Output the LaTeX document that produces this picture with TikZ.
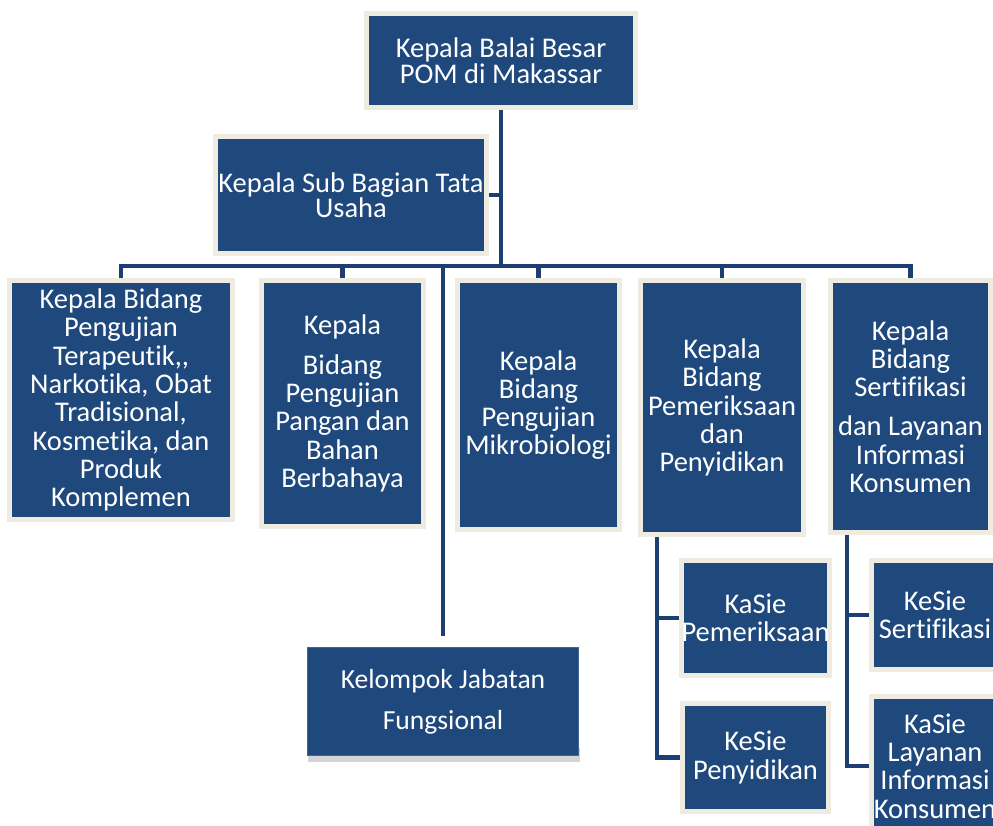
\documentclass[tikz,border=0pt]{standalone}
\usepackage{fontspec}
\setmainfont{Carlito}[Ligatures={NoCommon}]
\usepackage{xcolor}
\definecolor{biru}{RGB}{31,73,125}
\definecolor{krem}{RGB}{238,236,225}
\definecolor{garisbiru}{RGB}{28,62,112}
\definecolor{bayang}{RGB}{212,212,212}

\begin{document}
\begin{tikzpicture}[x=1pt,y=-1pt,
  kotak/.style={rectangle,fill=biru,draw=krem,line width=5pt,text=white,align=center,inner sep=0pt,
    font=\fontsize{28.5}{28.3}\selectfont},
  garis/.style={draw=garisbiru,line width=4.5pt}]
\useasboundingbox (0,0) rectangle (993,825);
%\fill[white] (0,0) rectangle (993,825);

% pimpinan dan tata usaha
\node[kotak,minimum width=269pt,minimum height=94pt,font=\fontsize{28.5}{26}\selectfont] (kepalabalai) at (501,60.5) {Kepala Balai Besar\\POM di Makassar};
\node[kotak,minimum width=271pt,minimum height=117pt,font=\fontsize{28.5}{25.5}\selectfont] (kasubbag) at (351,195) {Kepala Sub Bagian Tata\\Usaha};

% bidang
\node[kotak,minimum width=223pt,minimum height=239pt] (bidTPN) at (121,400) {Kepala Bidang\\Pengujian\\Terapeutik,{},\\Narkotika, Obat\\Tradisional,\\Kosmetika, dan\\Produk\\Komplemen};
\node[kotak,minimum width=162pt,minimum height=246pt] (bidPangan) at (342.5,403.5) {Kepala\\[11pt]Bidang\\Pengujian\\Pangan dan\\Bahan\\Berbahaya};
\node[kotak,minimum width=162pt,minimum height=249pt] (bidMikro) at (538.5,405) {Kepala\\Bidang\\Pengujian\\Mikrobiologi};
\node[kotak,minimum width=163pt,minimum height=254pt] (bidPemeriksaan) at (722,407.5) {Kepala\\Bidang\\Pemeriksaan\\dan\\Penyidikan};
\node[kotak,minimum width=160pt,minimum height=252pt] (bidSertifikasi) at (910.5,406.5) {Kepala\\Bidang\\Sertifikasi\\[11pt]dan Layanan\\Informasi\\Konsumen};

% seksi
\node[kotak,minimum width=146pt,minimum height=115pt] (kasiPemeriksaan) at (755.5,618) {KaSie\\Pemeriksaan};
\node[kotak,minimum width=146pt,minimum height=108pt] (kasiPenyidikan) at (755.5,757.5) {KeSie\\Penyidikan};
\node[kotak,minimum width=127pt,minimum height=109pt] (kasiSertifikasi) at (935,615) {KeSie\\Sertifikasi};
\node[kotak,minimum width=127pt,minimum height=139pt] (kasiLayanan) at (935,766) {KaSie\\Layanan\\Informasi\\Konsumen};

% kelompok jabatan fungsional
\fill[bayang] (308,748) rectangle (580,762);
\node[rectangle,fill=biru,draw=biru!85!white,line width=1pt,text=white,align=center,inner sep=0pt,
  minimum width=271pt,minimum height=108pt,font=\fontsize{27.6}{41}\selectfont] (kjf) at (443,701.5) {Kelompok Jabatan\\Fungsional};

% garis
\coordinate (cabang) at (501,266);
\draw[garis] (kepalabalai.south) -- (cabang);
\draw[garis] (kasubbag.east) -- (kasubbag.east -| cabang);
\draw[garis] (bidTPN.north) |- (cabang) -| (bidSertifikasi.north);
\foreach \b in {bidPangan,bidMikro,bidPemeriksaan}
  \draw[garis] (\b.north) -- (\b.north |- cabang);
\draw[garis] (kjf.north |- cabang) -- ([yshift=11pt]kjf.north);
\draw[garis] ([xshift=-65pt]bidPemeriksaan.south) |- (kasiPemeriksaan.west);
\draw[garis] ([xshift=-65pt]bidPemeriksaan.south) |- (kasiPenyidikan.west);
\draw[garis] ([xshift=-63.5pt]bidSertifikasi.south) |- (kasiSertifikasi.west);
\draw[garis] ([xshift=-63.5pt]bidSertifikasi.south) |- (kasiLayanan.west);
\end{tikzpicture}
\end{document}
